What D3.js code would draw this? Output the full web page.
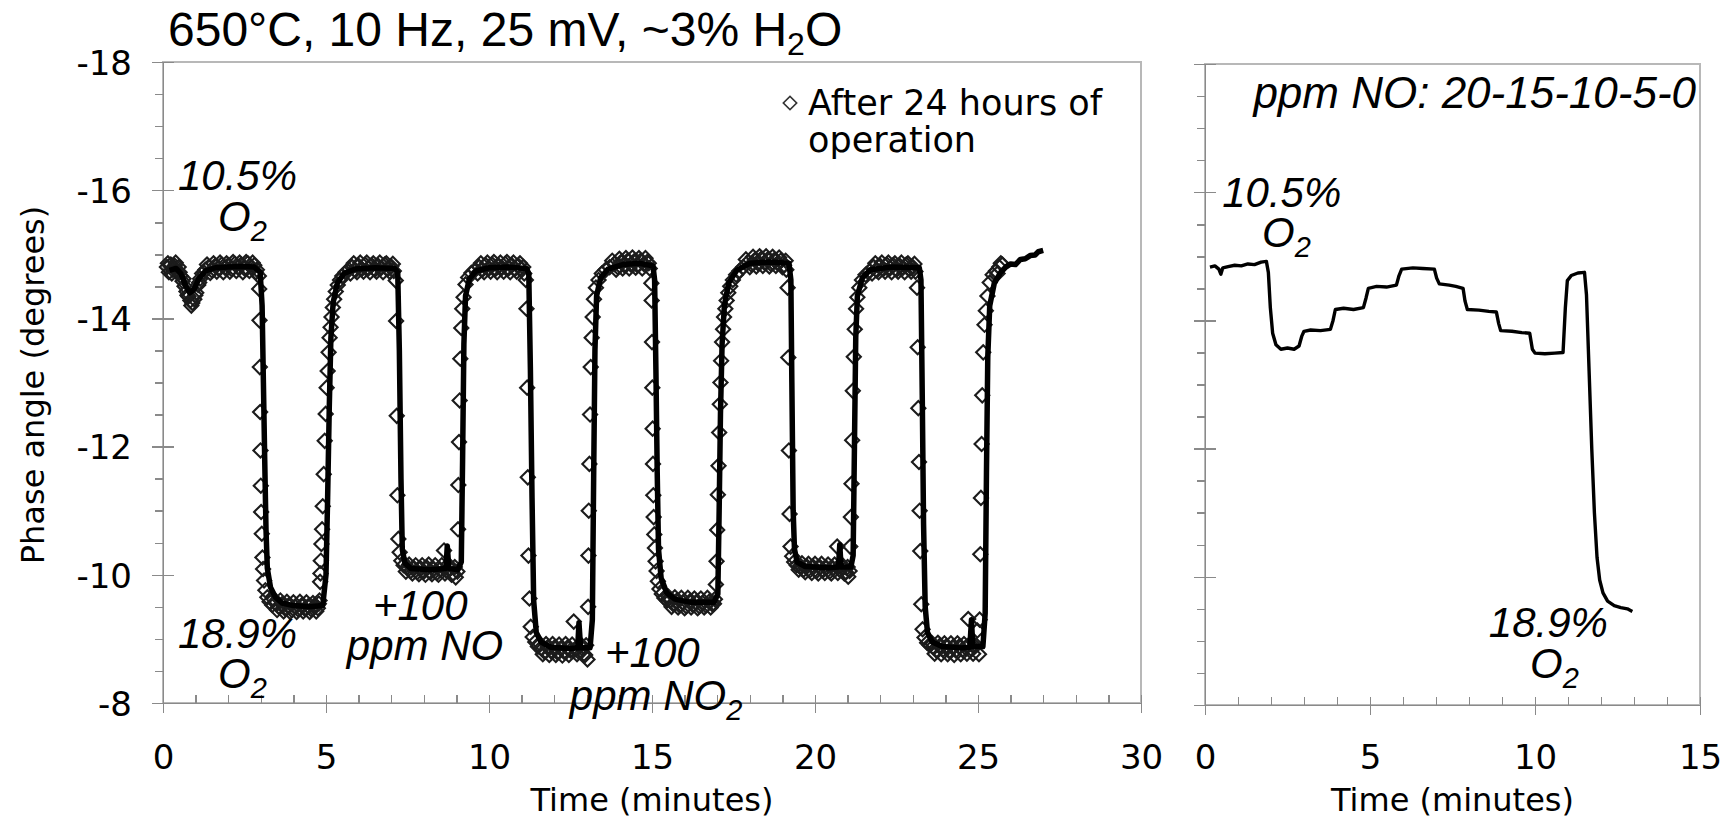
<!DOCTYPE html>
<meta charset="utf-8">
<style>
body { margin: 0; background: #fff; }
svg { display: block; }
.axis path, .axis line { stroke: #8a8a8a; stroke-width: 1.5; shape-rendering: crispEdges; }
.axis text { font-family: "DejaVu Sans", Verdana, sans-serif; font-size: 34px; fill: #000; }
.frame { fill: none; stroke: #b8b8b8; stroke-width: 1.5; shape-rendering: crispEdges; }
.note { font-family: "Liberation Sans", Arial, sans-serif; font-style: italic; font-size: 42px; fill: #000; }
.lab { font-family: "DejaVu Sans", Verdana, sans-serif; font-size: 32px; fill: #000; }
</style>
<svg width="1728" height="821"></svg>
<script src="https://d3js.org/d3.v7.min.js"></script>
<script>

// tick values
var xTicksLeft = [0, 5, 10, 15, 20, 25, 30];
var xTicksRight = [0, 5, 10, 15];
var yTicks = [-18, -16, -14, -12, -10, -8];

// left panel, solid line (time min, phase deg)
var lineLeft = [
  [0.2,-14.75],[0.4,-14.78],[0.55,-14.7],[0.7,-14.5],[0.82,-14.4],[0.95,-14.45],[1.1,-14.62],[1.3,-14.74],[1.6,-14.79],[2.0,-14.8],[2.4,-14.81],[2.8,-14.8],[2.98,-14.72],
  [3.04,-14.2],[3.08,-13.0],[3.12,-11.8],[3.16,-10.7],[3.2,-10.1],[3.3,-9.8],[3.45,-9.65],[3.65,-9.56],[4.0,-9.52],[4.5,-9.5],[4.9,-9.52],
  [5.0,-10.0],[5.05,-11.2],[5.1,-12.6],[5.15,-13.7],[5.22,-14.25],[5.35,-14.55],[5.55,-14.7],[5.9,-14.77],[6.5,-14.79],[7.1,-14.78],[7.2,-14.72],
  [7.25,-13.5],[7.3,-11.5],[7.34,-10.4],[7.42,-10.18],[7.6,-10.1],[8.2,-10.08],[8.68,-10.1],[8.72,-10.45],[8.77,-10.1],[9.05,-10.08],[9.15,-10.2],
  [9.19,-11.8],[9.23,-13.6],[9.28,-14.35],[9.4,-14.62],[9.6,-14.74],[10.0,-14.79],[10.6,-14.8],[11.15,-14.78],[11.22,-14.7],
  [11.27,-13.2],[11.32,-11.2],[11.37,-9.6],[11.45,-9.1],[11.6,-8.95],[11.9,-8.87],[12.5,-8.85],[12.72,-8.86],[12.76,-9.25],[12.81,-8.86],[13.1,-8.86],[13.17,-9.3],
  [13.21,-11.5],[13.25,-13.5],[13.3,-14.35],[13.42,-14.63],[13.65,-14.77],[14.1,-14.84],[14.6,-14.86],[15.03,-14.82],[15.08,-14.6],
  [15.12,-13.2],[15.16,-11.6],[15.2,-10.4],[15.28,-9.95],[15.45,-9.72],[15.7,-9.62],[16.2,-9.57],[16.9,-9.57],[17.02,-9.7],
  [17.06,-11.0],[17.1,-12.5],[17.15,-13.6],[17.22,-14.2],[17.35,-14.55],[17.6,-14.75],[18.0,-14.86],[18.6,-14.88],[19.2,-14.86],[19.26,-14.6],
  [19.29,-13.0],[19.33,-11.0],[19.37,-10.4],[19.45,-10.2],[19.7,-10.13],[20.4,-10.11],[20.72,-10.12],[20.76,-10.47],[20.8,-10.12],[21.1,-10.12],[21.17,-10.3],
  [21.21,-12.0],[21.25,-13.7],[21.3,-14.35],[21.45,-14.63],[21.7,-14.76],[22.3,-14.8],[23.2,-14.79],[23.25,-14.6],
  [23.29,-12.8],[23.33,-10.8],[23.38,-9.5],[23.45,-9.1],[23.6,-8.95],[23.9,-8.88],[24.5,-8.86],[24.75,-8.87],[24.8,-9.3],[24.84,-8.88],[25.15,-8.88],[25.22,-9.4],
  [25.26,-11.6],[25.3,-13.4],[25.36,-14.2],[25.5,-14.55],[25.7,-14.72],[25.85,-14.8],[26.0,-14.85],[26.15,-14.84],[26.3,-14.92],[26.45,-14.93],[26.6,-14.98],[26.75,-14.99],[26.85,-15.04],[27.0,-15.06]
];

// left panel, markers "After 24 hours of operation"
var markersLeft = [
  [0.12,-14.8],[0.18,-14.72],[0.24,-14.84],[0.3,-14.76],[0.36,-14.82],[0.42,-14.74],[0.48,-14.8],[0.54,-14.66],[0.6,-14.58],[0.66,-14.5],[0.72,-14.42],[0.78,-14.34],[0.84,-14.28],[0.9,-14.24],[0.96,-14.3],[1.02,-14.4],[1.08,-14.52],[1.14,-14.62],[1.2,-14.7],[1.3,-14.76],[1.4,-14.8],[1.5,-14.75],[1.6,-14.82],[1.7,-14.78],[1.8,-14.84],[1.9,-14.79],[2.0,-14.83],[2.1,-14.77],[2.2,-14.85],[2.3,-14.8],[2.4,-14.84],[2.5,-14.78],[2.6,-14.86],[2.7,-14.8],[2.8,-14.83],[2.88,-14.76],[2.94,-14.66],
  [2.95,-14.46],[2.96,-13.97],[2.97,-13.24],[2.98,-12.54],[2.99,-11.94],[3.0,-11.39],[3.01,-10.98],[3.03,-10.64],[3.05,-10.27],[3.07,-10.09],[3.1,-9.91],[3.14,-9.76],[3.2,-9.65],[3.27,-9.58],[3.35,-9.53],
  [3.45,-9.56],[3.55,-9.5],[3.65,-9.54],[3.75,-9.47],[3.85,-9.52],[3.95,-9.45],[4.05,-9.5],[4.15,-9.46],[4.25,-9.52],[4.35,-9.47],[4.45,-9.51],[4.55,-9.46],[4.65,-9.5],[4.75,-9.48],[4.8,-9.6],
  [4.82,-9.89],[4.83,-10.02],[4.84,-10.22],[4.86,-10.48],[4.88,-10.71],[4.9,-11.07],[4.93,-11.57],[4.96,-12.09],[4.99,-12.51],[5.02,-12.92],[5.05,-13.18],[5.08,-13.47],[5.11,-13.7],[5.14,-13.86],[5.17,-14.02],[5.21,-14.17],[5.25,-14.3],[5.3,-14.42],[5.36,-14.52],[5.43,-14.6],[5.5,-14.66],[5.6,-14.72],[5.7,-14.76],
  [5.8,-14.8],[5.9,-14.75],[6.0,-14.82],[6.1,-14.77],[6.2,-14.84],[6.3,-14.78],[6.4,-14.83],[6.5,-14.76],[6.6,-14.82],[6.7,-14.79],[6.8,-14.84],[6.9,-14.77],[7.0,-14.81],[7.08,-14.74],
  [7.14,-14.59],[7.15,-13.96],[7.17,-12.48],[7.19,-11.24],[7.22,-10.56],[7.26,-10.35],[7.31,-10.22],[7.38,-10.15],
  [7.5,-10.12],[7.6,-10.06],[7.7,-10.1],[7.8,-10.04],[7.9,-10.1],[8.0,-10.05],[8.1,-10.11],[8.2,-10.04],[8.3,-10.09],[8.4,-10.03],[8.5,-10.08],[8.62,-10.38],[8.7,-10.06],[8.8,-10.1],[8.9,-10.02],[8.98,-9.96],[9.03,-10.05],
  [9.05,-10.71],[9.06,-11.4],[9.08,-12.07],[9.1,-12.72],[9.12,-13.37],[9.15,-13.85],[9.18,-14.15],[9.22,-14.33],[9.28,-14.53],[9.36,-14.64],[9.46,-14.71],[9.58,-14.76],
  [9.7,-14.8],[9.8,-14.76],[9.9,-14.83],[10.0,-14.78],[10.1,-14.84],[10.2,-14.77],[10.3,-14.82],[10.4,-14.79],[10.5,-14.85],[10.6,-14.78],[10.7,-14.83],[10.8,-14.77],[10.9,-14.82],[11.0,-14.76],[11.08,-14.7],
  [11.13,-14.6],[11.15,-14.15],[11.17,-12.92],[11.19,-11.52],[11.21,-10.3],[11.24,-9.63],[11.28,-9.19],[11.34,-9.03],[11.42,-8.95],[11.5,-8.88],
  [11.6,-8.86],[11.7,-8.8],[11.8,-8.87],[11.9,-8.81],[12.0,-8.86],[12.1,-8.79],[12.2,-8.85],[12.3,-8.8],[12.4,-8.86],[12.5,-8.82],[12.6,-9.27],[12.65,-8.84],[12.75,-8.8],[12.85,-8.86],[12.95,-8.75],[13.02,-8.68],
  [13.04,-9.5],[13.05,-10.3],[13.06,-11.0],[13.08,-11.73],[13.1,-12.5],[13.12,-13.24],[13.15,-13.7],[13.18,-14.02],[13.22,-14.3],[13.28,-14.48],[13.36,-14.6],[13.46,-14.7],[13.58,-14.76],[13.7,-14.8],
  [13.85,-14.85],[13.95,-14.8],[14.05,-14.88],[14.15,-14.83],[14.25,-14.9],[14.35,-14.84],[14.45,-14.89],[14.55,-14.83],[14.65,-14.9],[14.75,-14.85],[14.85,-14.88],[14.93,-14.78],
  [14.98,-14.55],[14.99,-14.28],[15.0,-13.63],[15.01,-12.92],[15.02,-12.28],[15.03,-11.73],[15.04,-11.24],[15.05,-10.9],[15.07,-10.63],[15.09,-10.42],[15.11,-10.21],[15.14,-10.06],[15.18,-9.9],[15.23,-9.78],[15.3,-9.7],[15.38,-9.64],[15.46,-9.6],
  [15.55,-9.6],[15.65,-9.54],[15.75,-9.59],[15.85,-9.52],[15.95,-9.57],[16.05,-9.51],[16.15,-9.58],[16.25,-9.53],[16.35,-9.57],[16.45,-9.51],[16.55,-9.56],[16.65,-9.52],[16.75,-9.58],[16.85,-9.54],[16.93,-9.62],
  [16.96,-9.85],[16.98,-10.21],[17.0,-10.7],[17.02,-11.25],[17.04,-11.7],[17.06,-12.22],[17.08,-12.66],[17.1,-13.0],[17.12,-13.34],[17.15,-13.63],[17.18,-13.83],[17.21,-14.02],[17.25,-14.15],[17.29,-14.28],[17.34,-14.4],[17.4,-14.5],[17.48,-14.6],[17.58,-14.68],[17.68,-14.74],[17.8,-14.8],
  [17.95,-14.88],[18.05,-14.84],[18.15,-14.91],[18.25,-14.86],[18.35,-14.93],[18.45,-14.87],[18.55,-14.92],[18.65,-14.85],[18.75,-14.91],[18.85,-14.86],[18.95,-14.9],[19.05,-14.83],[19.12,-14.76],
  [19.16,-14.48],[19.18,-13.39],[19.2,-11.94],[19.22,-10.95],[19.25,-10.44],[19.3,-10.29],[19.36,-10.2],[19.44,-10.15],
  [19.55,-10.14],[19.65,-10.08],[19.75,-10.13],[19.85,-10.07],[19.95,-10.12],[20.05,-10.06],[20.15,-10.12],[20.25,-10.07],[20.35,-10.11],[20.45,-10.05],[20.55,-10.1],[20.68,-10.44],[20.75,-10.08],[20.85,-10.12],[20.95,-10.04],[21.02,-9.97],[21.06,-10.06],
  [21.08,-10.44],[21.1,-10.9],[21.12,-11.42],[21.14,-12.1],[21.16,-12.87],[21.19,-13.4],[21.22,-13.83],[21.26,-14.15],[21.3,-14.33],[21.36,-14.48],[21.44,-14.6],[21.55,-14.68],[21.68,-14.74],
  [21.8,-14.8],[21.9,-14.75],[22.0,-14.82],[22.1,-14.77],[22.2,-14.84],[22.3,-14.78],[22.4,-14.83],[22.5,-14.76],[22.6,-14.82],[22.7,-14.79],[22.8,-14.84],[22.9,-14.77],[23.0,-14.8],[23.08,-14.73],
  [23.13,-14.48],[23.15,-13.55],[23.17,-12.6],[23.19,-11.76],[23.21,-11.0],[23.23,-10.37],[23.26,-9.54],[23.3,-9.15],[23.36,-9.02],[23.44,-8.94],[23.52,-8.9],
  [23.62,-8.88],[23.72,-8.82],[23.82,-8.89],[23.92,-8.83],[24.02,-8.88],[24.12,-8.81],[24.22,-8.87],[24.32,-8.82],[24.42,-8.88],[24.52,-8.83],[24.62,-8.86],[24.7,-9.31],[24.8,-8.84],[24.9,-8.88],[24.98,-9.13],[25.03,-8.76],
  [25.05,-9.3],[25.07,-10.32],[25.09,-11.2],[25.11,-12.04],[25.13,-12.8],[25.16,-13.47],[25.2,-13.9],[25.24,-14.12],[25.29,-14.35],[25.36,-14.56],[25.45,-14.68],[25.55,-14.74],[25.65,-14.8],[25.75,-14.84]
];

// extra markers packed into the plateaus (dense black bands in the picture)
var markersLeftDense = [
  [0.15,-14.86],[0.27,-14.7],[0.39,-14.87],[0.51,-14.72],[0.63,-14.62],[0.75,-14.36],[0.87,-14.2],[0.99,-14.36],[1.11,-14.56],
  [1.25,-14.72],[1.35,-14.84],[1.45,-14.71],[1.55,-14.86],[1.65,-14.73],[1.75,-14.87],[1.85,-14.72],[1.95,-14.86],[2.05,-14.73],[2.15,-14.88],[2.25,-14.74],[2.35,-14.87],[2.45,-14.72],[2.55,-14.88],[2.65,-14.74],[2.75,-14.87],[2.85,-14.72],
  [3.4,-9.62],[3.5,-9.45],[3.6,-9.6],[3.7,-9.43],[3.8,-9.58],[3.9,-9.42],[4.0,-9.57],[4.1,-9.42],[4.2,-9.58],[4.3,-9.43],[4.4,-9.57],[4.5,-9.42],[4.6,-9.56],[4.7,-9.43],[4.78,-9.55],
  [5.75,-14.7],[5.85,-14.86],[5.95,-14.72],[6.05,-14.87],[6.15,-14.73],[6.25,-14.87],[6.35,-14.72],[6.45,-14.86],[6.55,-14.73],[6.65,-14.87],[6.75,-14.72],[6.85,-14.86],[6.95,-14.73],[7.05,-14.85],
  [7.45,-10.05],[7.55,-10.16],[7.65,-10.02],[7.75,-10.15],[7.85,-10.01],[7.95,-10.15],[8.05,-10.0],[8.15,-10.16],[8.25,-10.01],[8.35,-10.15],[8.45,-10.0],[8.55,-10.15],[8.65,-10.02],[8.75,-10.16],[8.85,-10.0],[8.95,-10.12],
  [9.65,-14.7],[9.75,-14.86],[9.85,-14.72],[9.95,-14.87],[10.05,-14.73],[10.15,-14.88],[10.25,-14.72],[10.35,-14.87],[10.45,-14.73],[10.55,-14.88],[10.65,-14.72],[10.75,-14.87],[10.85,-14.73],[10.95,-14.86],[11.05,-14.8],
  [11.55,-8.93],[11.65,-8.76],[11.75,-8.92],[11.85,-8.75],[11.95,-8.92],[12.05,-8.75],[12.15,-8.91],[12.25,-8.74],[12.35,-8.92],[12.45,-8.75],[12.55,-8.91],[12.7,-8.76],[12.8,-8.92],[12.9,-8.76],[12.98,-8.9],
  [13.78,-14.9],[13.9,-14.76],[14.0,-14.93],[14.1,-14.78],[14.2,-14.94],[14.3,-14.78],[14.4,-14.95],[14.5,-14.79],[14.6,-14.94],[14.7,-14.78],[14.8,-14.94],[14.9,-14.86],
  [15.5,-9.66],[15.6,-9.5],[15.7,-9.65],[15.8,-9.49],[15.9,-9.64],[16.0,-9.48],[16.1,-9.64],[16.2,-9.49],[16.3,-9.63],[16.4,-9.48],[16.5,-9.63],[16.6,-9.49],[16.7,-9.64],[16.8,-9.49],[16.9,-9.55],
  [17.88,-14.92],[18.0,-14.8],[18.1,-14.96],[18.2,-14.81],[18.3,-14.97],[18.4,-14.82],[18.5,-14.97],[18.6,-14.81],[18.7,-14.96],[18.8,-14.82],[18.9,-14.95],[19.0,-14.8],[19.1,-14.9],
  [19.5,-10.08],[19.6,-10.18],[19.7,-10.04],[19.8,-10.17],[19.9,-10.03],[20.0,-10.17],[20.1,-10.02],[20.2,-10.17],[20.3,-10.03],[20.4,-10.16],[20.5,-10.02],[20.6,-10.16],[20.7,-10.03],[20.8,-10.17],[20.9,-10.02],[21.0,-10.12],
  [21.75,-14.7],[21.85,-14.86],[21.95,-14.72],[22.05,-14.87],[22.15,-14.73],[22.25,-14.87],[22.35,-14.72],[22.45,-14.86],[22.55,-14.73],[22.65,-14.87],[22.75,-14.72],[22.85,-14.86],[22.95,-14.73],[23.05,-14.85],
  [23.58,-8.94],[23.67,-8.77],[23.77,-8.94],[23.87,-8.76],[23.97,-8.93],[24.07,-8.76],[24.17,-8.93],[24.27,-8.75],[24.37,-8.93],[24.47,-8.76],[24.57,-8.92],[24.66,-8.77],[24.75,-8.92],[24.85,-8.77],[24.94,-8.9],
  [25.6,-14.7],[25.7,-14.86]
];

// right panel, NO steps 20-15-10-5-0 ppm
var lineRight = [
  [0.15,-14.83],[0.3,-14.85],[0.42,-14.8],[0.48,-14.72],[0.54,-14.82],[0.7,-14.84],[0.9,-14.86],[1.1,-14.85],[1.3,-14.88],[1.5,-14.87],[1.7,-14.91],[1.86,-14.92],
  [1.92,-14.75],[1.98,-14.2],[2.05,-13.8],[2.15,-13.62],[2.3,-13.55],[2.5,-13.57],[2.7,-13.55],[2.85,-13.6],
  [2.93,-13.75],[3.0,-13.83],[3.2,-13.85],[3.5,-13.84],[3.8,-13.86],[3.88,-14.0],[3.95,-14.17],[4.2,-14.19],[4.5,-14.17],[4.8,-14.2],
  [4.88,-14.35],[4.95,-14.5],[5.2,-14.53],[5.5,-14.52],[5.8,-14.55],[5.88,-14.7],[5.96,-14.8],[6.3,-14.82],[6.6,-14.81],[6.95,-14.8],
  [7.02,-14.66],[7.1,-14.57],[7.4,-14.55],[7.6,-14.53],[7.82,-14.5],[7.88,-14.3],[7.95,-14.17],[8.3,-14.16],[8.6,-14.14],[8.83,-14.13],
  [8.9,-13.95],[8.96,-13.84],[9.3,-13.83],[9.6,-13.81],[9.84,-13.8],[9.92,-13.55],[10.0,-13.49],[10.3,-13.48],[10.6,-13.49],[10.85,-13.5],
  [10.92,-14.2],[10.98,-14.62],[11.1,-14.7],[11.3,-14.74],[11.5,-14.75],
  [11.56,-14.4],[11.64,-13.2],[11.72,-12.0],[11.8,-11.0],[11.88,-10.3],[11.96,-9.95],[12.06,-9.75],[12.2,-9.62],[12.4,-9.55],[12.6,-9.52],[12.8,-9.5],[12.95,-9.46]
];

var svg = d3.select("svg");

var xL = d3.scaleLinear().domain([0, 30]).range([163, 1141]),
    yL = d3.scaleLinear().domain([-18, -8]).range([62, 703]),
    xR = d3.scaleLinear().domain([0, 15]).range([1205, 1700]),
    yR = d3.scaleLinear().domain([-18, -8]).range([64, 705]);

var yMinor = d3.range(-18, -7.99, 0.5);

function frame(x, y, xTicks, yLabels) {
  var x0 = x.range()[0], x1 = x.range()[1], yTop = y.range()[0], yBot = y.range()[1];

  svg.append("rect").attr("class", "frame")
      .attr("x", x0).attr("y", yTop).attr("width", x1 - x0).attr("height", yBot - yTop);

  var minorX = d3.range(x.domain()[0], x.domain()[1] + 0.01, 1);

  // x axis: minor ticks inside, major ticks outside with labels
  svg.append("g").attr("class", "axis").attr("transform", "translate(0," + yBot + ")")
      .call(d3.axisBottom(x).tickValues(minorX).tickSize(-8).tickSizeOuter(0).tickFormat(""));
  svg.append("g").attr("class", "axis").attr("transform", "translate(0," + yBot + ")")
      .call(d3.axisBottom(x).tickValues(xTicks).tickSize(10).tickSizeOuter(0).tickFormat(d => String(d)))
    .selectAll("text").attr("y", 769 - yBot).attr("dy", 0);

  // y axis: minor outside, major crossing
  svg.append("g").attr("class", "axis").attr("transform", "translate(" + x0 + ",0)")
      .call(d3.axisLeft(y).tickValues(yMinor).tickSize(8).tickSizeOuter(0).tickFormat(""));
  svg.append("g").attr("class", "axis").attr("transform", "translate(" + x0 + ",0)")
      .call(d3.axisLeft(y).tickValues(yTicks).tickSize(-11).tickSizeOuter(0).tickFormat(""));
  var ya = svg.append("g").attr("class", "axis").attr("transform", "translate(" + x0 + ",0)")
      .call(d3.axisLeft(y).tickValues(yTicks).tickSize(11).tickSizeOuter(0)
        .tickFormat(yLabels ? (d => String(d)) : ""));
  ya.selectAll("text").attr("x", -31).attr("dy", "0.36em");

  svg.append("text").attr("class", "lab")
      .attr("x", (x0 + x1) / 2).attr("y", 811)
      .attr("text-anchor", "middle")
      .text("Time (minutes)");
}

frame(xL, yL, xTicksLeft, true);
frame(xR, yR, xTicksRight, false);

svg.append("text").attr("class", "lab")
    .attr("transform", "translate(44,385) rotate(-90)")
    .attr("text-anchor", "middle")
    .text("Phase angle (degrees)");

// markers
var diamond = d3.symbol().type(d3.symbolSquare).size(100);

svg.append("g").selectAll("path")
  .data(markersLeft.concat(markersLeftDense))
  .enter().append("path")
    .attr("d", diamond)
    .attr("transform", d => "translate(" + xL(d[0]) + "," + yL(d[1]) + ") rotate(45)")
    .attr("fill", "none")
    .attr("stroke", "#1c1c1c")
    .attr("stroke-width", 2.1);

// lines
svg.append("path")
    .datum(lineLeft)
    .attr("fill", "none")
    .attr("stroke", "#000")
    .attr("stroke-width", 5.5)
    .attr("stroke-linejoin", "round")
    .attr("d", d3.line().x(d => xL(d[0])).y(d => yL(d[1])));

svg.append("path")
    .datum(lineRight)
    .attr("fill", "none")
    .attr("stroke", "#000")
    .attr("stroke-width", 3.4)
    .attr("stroke-linejoin", "round")
    .attr("d", d3.line().x(d => xR(d[0])).y(d => yR(d[1])));

// legend
svg.append("path")
    .attr("d", d3.symbol().type(d3.symbolSquare).size(90))
    .attr("transform", "translate(790,103) rotate(45)")
    .attr("fill", "none").attr("stroke", "#333").attr("stroke-width", 1.6);
svg.append("text").attr("class", "lab").style("font-size", "35px").attr("x", 808).attr("y", 115).text("After 24 hours of");
svg.append("text").attr("class", "lab").style("font-size", "35px").attr("x", 808).attr("y", 152).text("operation");

// title
var title = svg.append("text")
    .attr("x", 168).attr("y", 46)
    .style("font-family", "'Liberation Sans', Arial, sans-serif")
    .style("font-size", "48px");
title.append("tspan").text("650°C, 10 Hz, 25 mV, ~3% H");
title.append("tspan").attr("dy", 9).style("font-size", "32px").text("2");
title.append("tspan").attr("dy", -9).text("O");

// annotations
function note(px, py, txt, sub, anchor) {
  var t = svg.append("text").attr("class", "note")
      .attr("x", px).attr("y", py)
      .attr("text-anchor", anchor || "start");
  t.append("tspan").text(txt);
  if (sub) t.append("tspan").attr("dy", 10).style("font-size", "29px").text(sub);
  return t;
}

note(xL(0.46), yL(-16.0), "10.5%");
note(xL(1.69), yL(-15.36), "O", "2");
note(xL(0.46), yL(-8.86), "18.9%");
note(xL(1.69), yL(-8.23), "O", "2");
note(xL(6.44), yL(-9.29), "+100");
note(xL(5.64), yL(-8.67), "ppm NO");
note(xL(13.56), yL(-8.56), "+100");
note(xL(12.48), yL(-7.89), "ppm NO", "2");

note(xR(14.88), yR(-17.31), "ppm NO: 20-15-10-5-0", null, "end").style("font-size", "44px");
note(xR(0.52), yR(-15.77), "10.5%");
note(xR(1.73), yR(-15.15), "O", "2");
note(xR(8.6), yR(-9.06), "18.9%");
note(xR(9.85), yR(-8.42), "O", "2");

</script>
